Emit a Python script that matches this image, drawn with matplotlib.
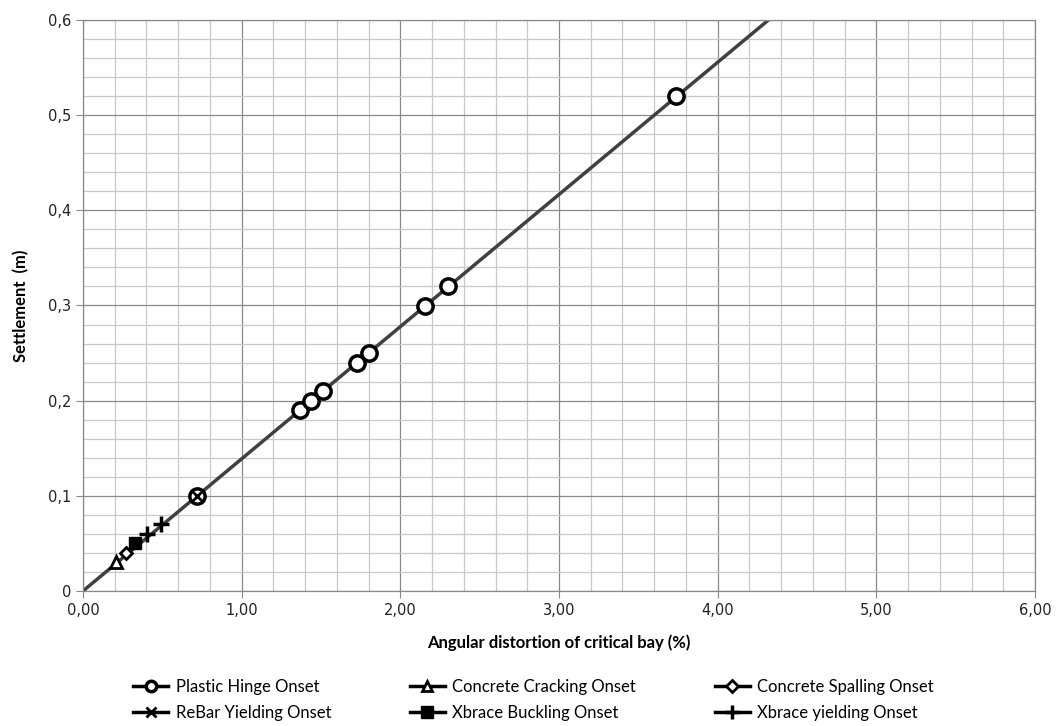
import matplotlib
matplotlib.use("Agg")
import matplotlib.pyplot as plt
from matplotlib.lines import Line2D
from matplotlib.ticker import MultipleLocator, FuncFormatter

plt.rcParams['font.family'] = ['DejaVu Sans']
LABEL_FONT = ['Lato', 'DejaVu Sans']

# Data
trend_x = [0.0, 4.5]
trend_y = [0.0, 0.625]

hinge_x = [0.72, 1.367, 1.439, 1.51, 1.727, 1.80, 2.158, 2.30, 3.74]
hinge_y = [0.10, 0.19, 0.20, 0.21, 0.24, 0.25, 0.30, 0.32, 0.52]
crack_x = [0.21]
crack_y = [0.03]
spall_x = [0.27]
spall_y = [0.04]
rebar_x = [0.72]
rebar_y = [0.10]
buckl_x = [0.33]
buckl_y = [0.05]
xyield_x = [0.405, 0.49]
xyield_y = [0.06, 0.07]

labels = ["Plastic Hinge Onset", "Concrete Cracking Onset", "Concrete Spalling Onset",
          "ReBar Yielding Onset", "Xbrace Buckling Onset", "Xbrace yielding Onset"]

fig = plt.figure(figsize=(10.61, 7.26), dpi=100)
ax = fig.add_axes([83/1061, 1-591/726, (1035-83)/1061, (591-20)/726])

ax.set_xlim(0, 6)
ax.set_ylim(0, 0.6)
ax.xaxis.set_major_locator(MultipleLocator(1))
ax.xaxis.set_minor_locator(MultipleLocator(0.2))
ax.yaxis.set_major_locator(MultipleLocator(0.1))
ax.yaxis.set_minor_locator(MultipleLocator(0.02))
ax.grid(which='minor', color='#c8c8c8', lw=0.9)
ax.grid(which='major', color='#8a8a8a', lw=0.9)
ax.set_axisbelow(True)
for s in ax.spines.values():
    s.set_color('#8a8a8a')
    s.set_linewidth(0.9)
ax.tick_params(which='major', length=5, color='#8a8a8a', labelsize=10.5, labelcolor='#222222')
ax.tick_params(which='minor', length=0)
ax.xaxis.set_major_formatter(FuncFormatter(lambda v, p: f"{v:.2f}".replace('.', ',')))
ax.yaxis.set_major_formatter(FuncFormatter(lambda v, p: "0" if abs(v) < 1e-9 else f"{v:.1f}".replace('.', ',')))

ax.plot(trend_x, trend_y, color='#404040', lw=2.5, zorder=2, clip_on=True)

styles = [
    dict(marker='o', ms=11, mfc='white', mec='black', mew=2.5),
    dict(marker='^', ms=8, mfc='white', mec='black', mew=2.0),
    dict(marker='D', ms=6, mfc='white', mec='black', mew=2.0),
    dict(marker='x', ms=7, mfc='black', mec='black', mew=2.0),
    dict(marker='s', ms=8, mfc='black', mec='black', mew=1.0),
    dict(marker='+', ms=11, mfc='black', mec='black', mew=2.5),
]
leg_sizes = [7.5, 7, 6, 6.5, 8, 10]
series = [(hinge_x, hinge_y), (crack_x, crack_y), (spall_x, spall_y),
          (rebar_x, rebar_y), (buckl_x, buckl_y), (xyield_x, xyield_y)]
for (xs, ys), st in zip(series, styles):
    ax.plot(xs, ys, linestyle='none', zorder=3, **st)

handles = []
for st, sz in zip(styles, leg_sizes):
    d = dict(st)
    d['ms'] = sz
    handles.append(Line2D([0], [0], color='black', lw=2.5, **d))
# order for column-major fill: col1 = [0,3], col2 = [1,4], col3 = [2,5]
order = [0, 3, 1, 4, 2, 5]
leg = fig.legend([handles[i] for i in order], [labels[i] for i in order],
                 ncol=3, frameon=False, loc='center left', bbox_to_anchor=(133/1061, 0.0365),
                 borderpad=0, borderaxespad=0,
                 prop=dict(family=LABEL_FONT, size=12), columnspacing=4.72,
                 handlelength=2.1, handletextpad=0.45, labelspacing=0.6)

ax.set_xlabel("Angular distortion of critical bay (%)", fontsize=12, fontweight='bold',
              family=LABEL_FONT, labelpad=12)
ax.set_ylabel("Settlement  (m)", fontsize=12, fontweight='bold', family=LABEL_FONT,
              labelpad=13)

fig.savefig("out.png", dpi=100)
